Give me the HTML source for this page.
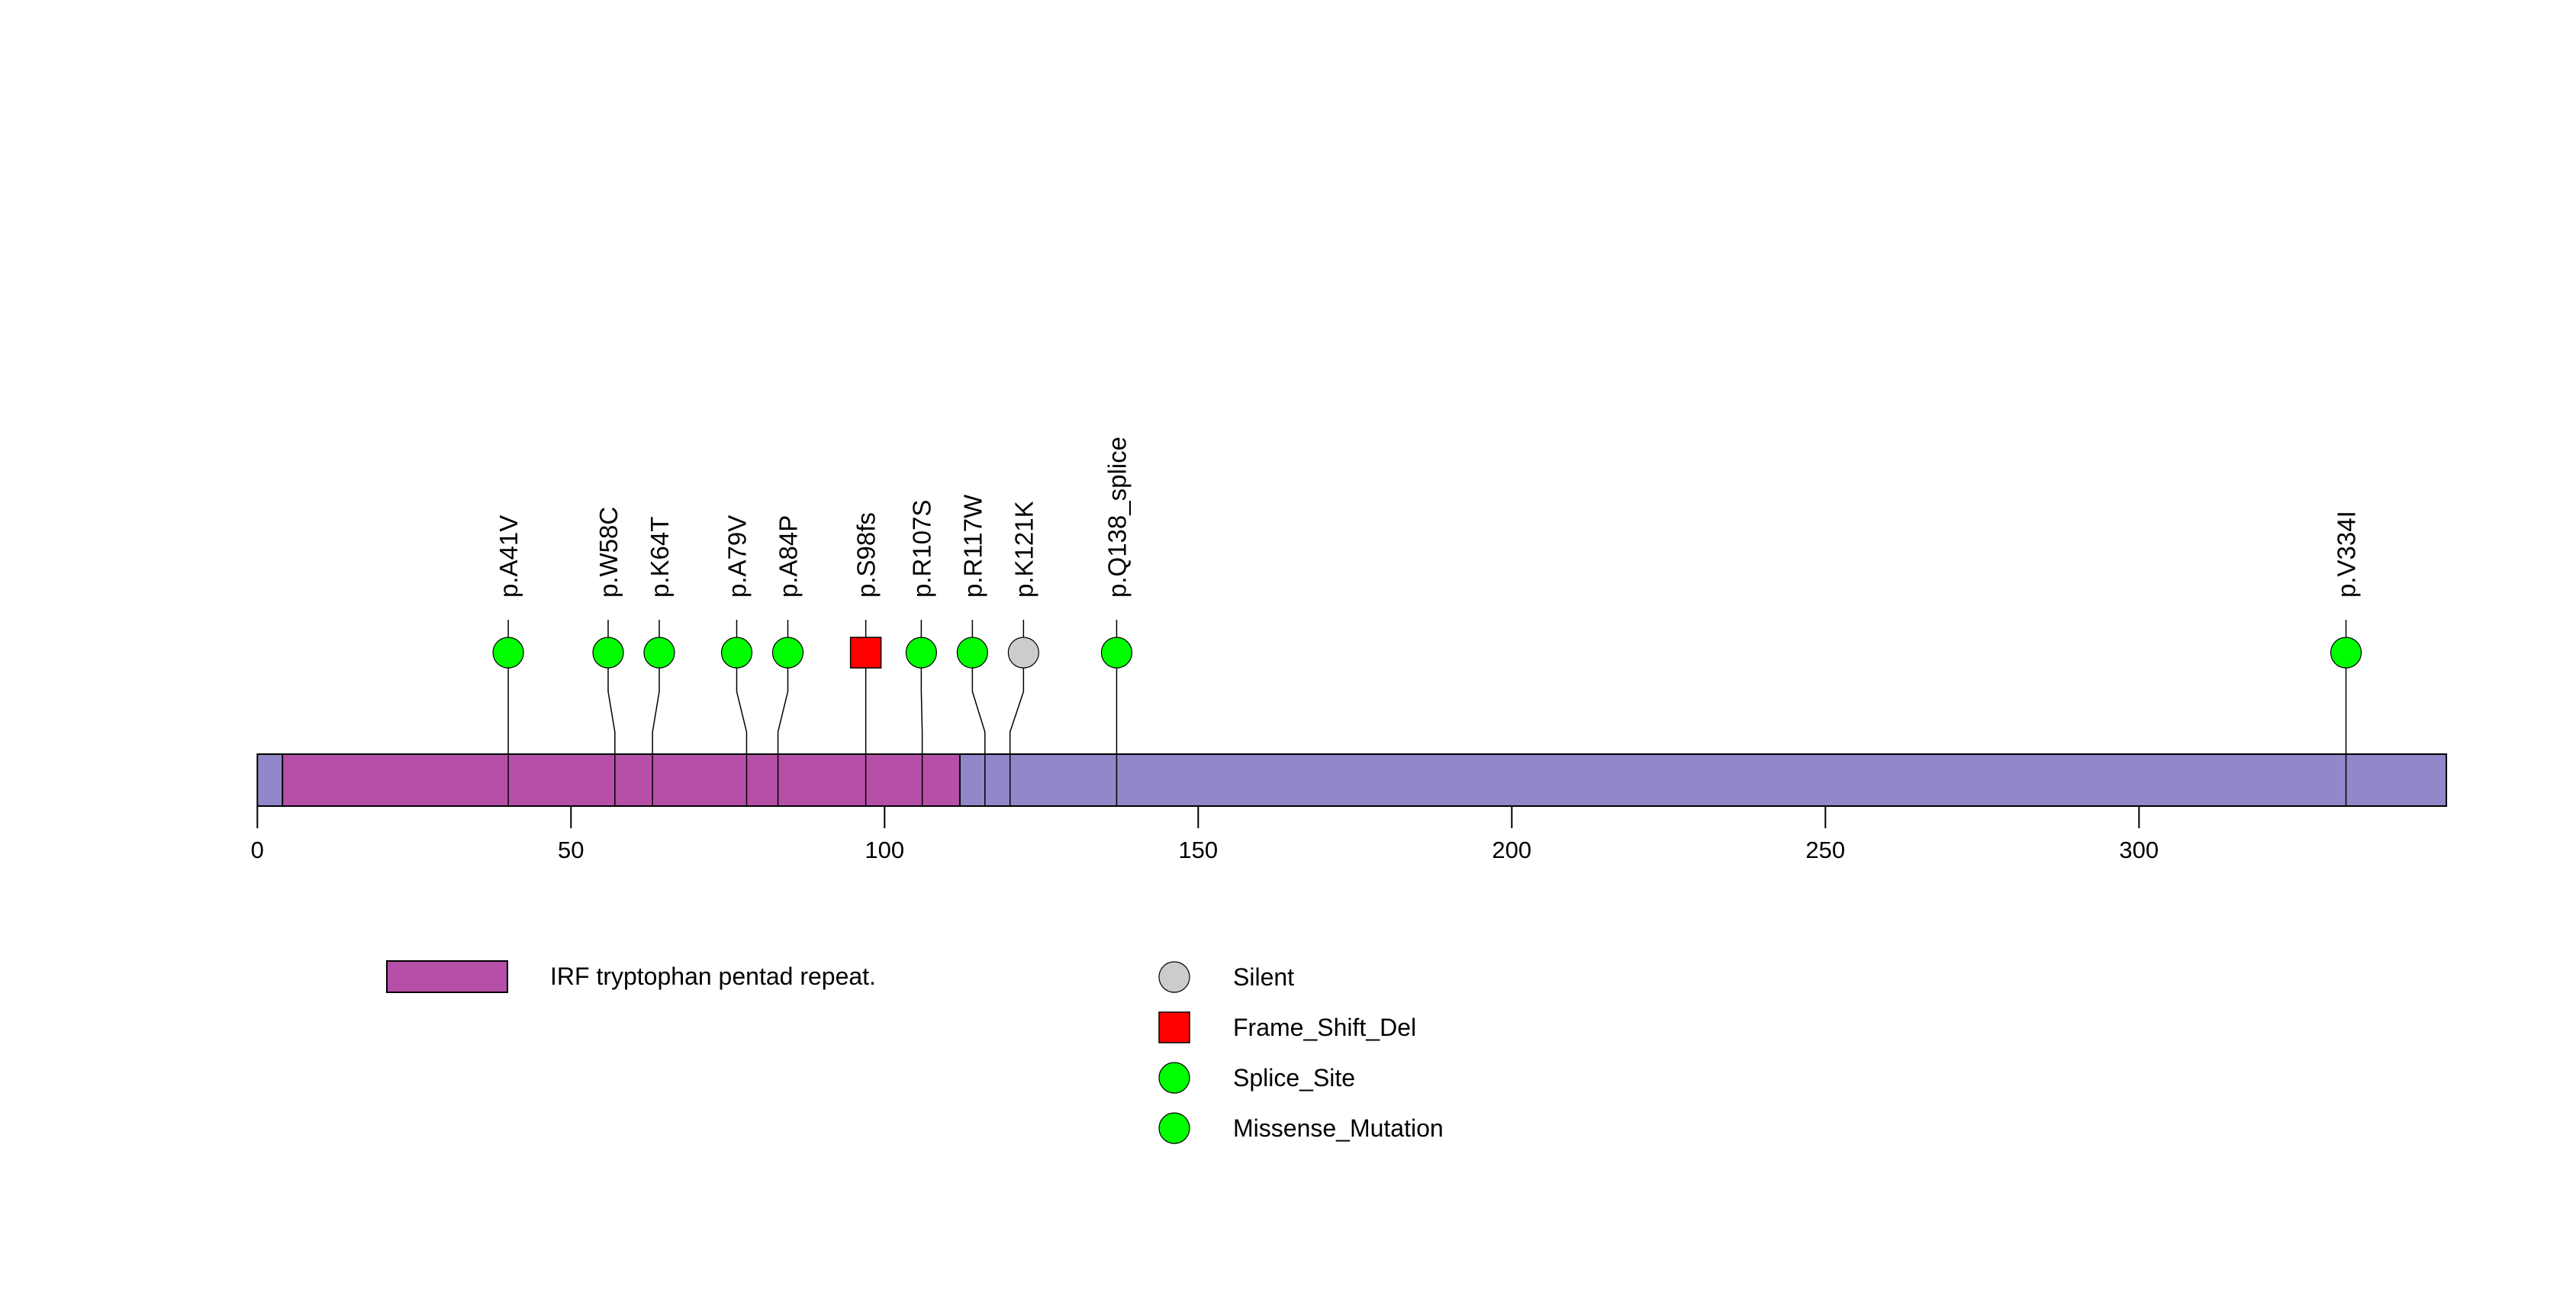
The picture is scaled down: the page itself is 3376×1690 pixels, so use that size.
<!DOCTYPE html>
<html><head><meta charset="utf-8"><style>
html,body{margin:0;padding:0;background:#fff;}
svg{display:block;font-family:"Liberation Sans",sans-serif;}
</style></head><body>
<svg id="chart" width="3376" height="1690" viewBox="0 0 3376 1690" xmlns="http://www.w3.org/2000/svg">
<g id="plot"></g>
</svg>
<script>
const proteinLength = 349;
const domainStarts = [5];
const domainEnds = [112];
const domainNames = ["IRF tryptophan pentad repeat."];
const mutPositions = [41, 58, 64, 79, 84, 98, 107, 117, 121, 138, 334];
const mutLabels = ["p.A41V","p.W58C","p.K64T","p.A79V","p.A84P","p.S98fs","p.R107S","p.R117W","p.K121K","p.Q138_splice","p.V334I"];
const mutTypes = ["Missense_Mutation","Missense_Mutation","Missense_Mutation","Missense_Mutation","Missense_Mutation","Frame_Shift_Del","Missense_Mutation","Missense_Mutation","Silent","Splice_Site","Missense_Mutation"];
const tickValues = [0, 50, 100, 150, 200, 250, 300];
const legendTypes = ["Silent","Frame_Shift_Del","Splice_Site","Missense_Mutation"];

const NS = "http://www.w3.org/2000/svg";
const g = document.getElementById('plot');
const X0 = 337.3, K = 8.22;
const xs = p => X0 + p * K;
const xm = p => X0 + (p - 1) * K;
const barTop = 988, barBot = 1056;
const colors = {Silent:"#cccccc", Frame_Shift_Del:"#ff0000", Splice_Site:"#00ff00", Missense_Mutation:"#00ff00"};
function el(tag, attrs, parent){ const e=document.createElementNS(NS,tag); for(const k in attrs) e.setAttribute(k,attrs[k]); (parent||g).appendChild(e); return e; }

const bar = el('rect',{x:xs(0),y:barTop,width:xs(proteinLength)-xs(0),height:barBot-barTop,fill:'#9487c9',stroke:'#000','stroke-width':2});


domainStarts.forEach((s,i)=>{
  const d = el('rect',{x:xm(s),y:barTop,width:xm(domainEnds[i]+1)-xm(s),height:barBot-barTop,fill:'#b64fa8',stroke:'#000','stroke-width':2});
  
  
});
tickValues.forEach(v=>{
  const t = el('line',{x1:xs(v),x2:xs(v),y1:barBot,y2:1085,stroke:'#000','stroke-width':2});
  
  
  const l = el('text',{x:xs(v),y:1124,'font-size':31,'text-anchor':'middle'});
  l.textContent = v;
  
  
});
const GAP = 67;
let lx = mutPositions.map(xm);
for(let it=0; it<200; it++){
  let moved=false;
  for(let i=0;i<lx.length-1;i++){
    const d = lx[i+1]-lx[i];
    if(d < GAP-0.01){ const s=(GAP-d)/2; lx[i]-=s; lx[i+1]+=s; moved=true; }
  }
  if(!moved) break;
}
mutPositions.forEach((p,i)=>{
  const px = xm(p), qx = lx[i];
  const stem = el('polyline',{points:`${px},${barBot} ${px},959 ${qx},906 ${qx},812`,fill:'none',stroke:'#000','stroke-width':1.5});
  
  
  let m;
  if(mutTypes[i]==='Frame_Shift_Del'){
    m = el('rect',{x:qx-20,y:835,width:40,height:40,fill:colors[mutTypes[i]],stroke:'#000','stroke-width':1.5});
  } else {
    m = el('circle',{cx:qx,cy:855,r:20,fill:colors[mutTypes[i]],stroke:'#000','stroke-width':1.2});
  }
  
  
  const t = el('text',{x:0,y:0,'font-size':33,transform:`translate(${qx+12},783) rotate(-90)`});
  t.textContent = mutLabels[i];
  
  
});
const lr = el('rect',{x:507,y:1259,width:158,height:41,fill:'#b64fa8',stroke:'#000','stroke-width':2});


const lt = el('text',{x:721,y:1290,'font-size':32});
lt.textContent = domainNames[0];


legendTypes.forEach((tp,i)=>{
  const cy = 1280 + i*66;
  let s;
  if(tp==='Frame_Shift_Del') s = el('rect',{x:1519,y:cy-20,width:40,height:40,fill:colors[tp],stroke:'#000','stroke-width':1.5});
  else s = el('circle',{cx:1539,cy:cy,r:20,fill:colors[tp],stroke:'#000','stroke-width':1.2});
  
  
  const t = el('text',{x:1616,y:cy+11,'font-size':32});
  t.textContent = tp;
  
  
});
</script>
</body></html>
